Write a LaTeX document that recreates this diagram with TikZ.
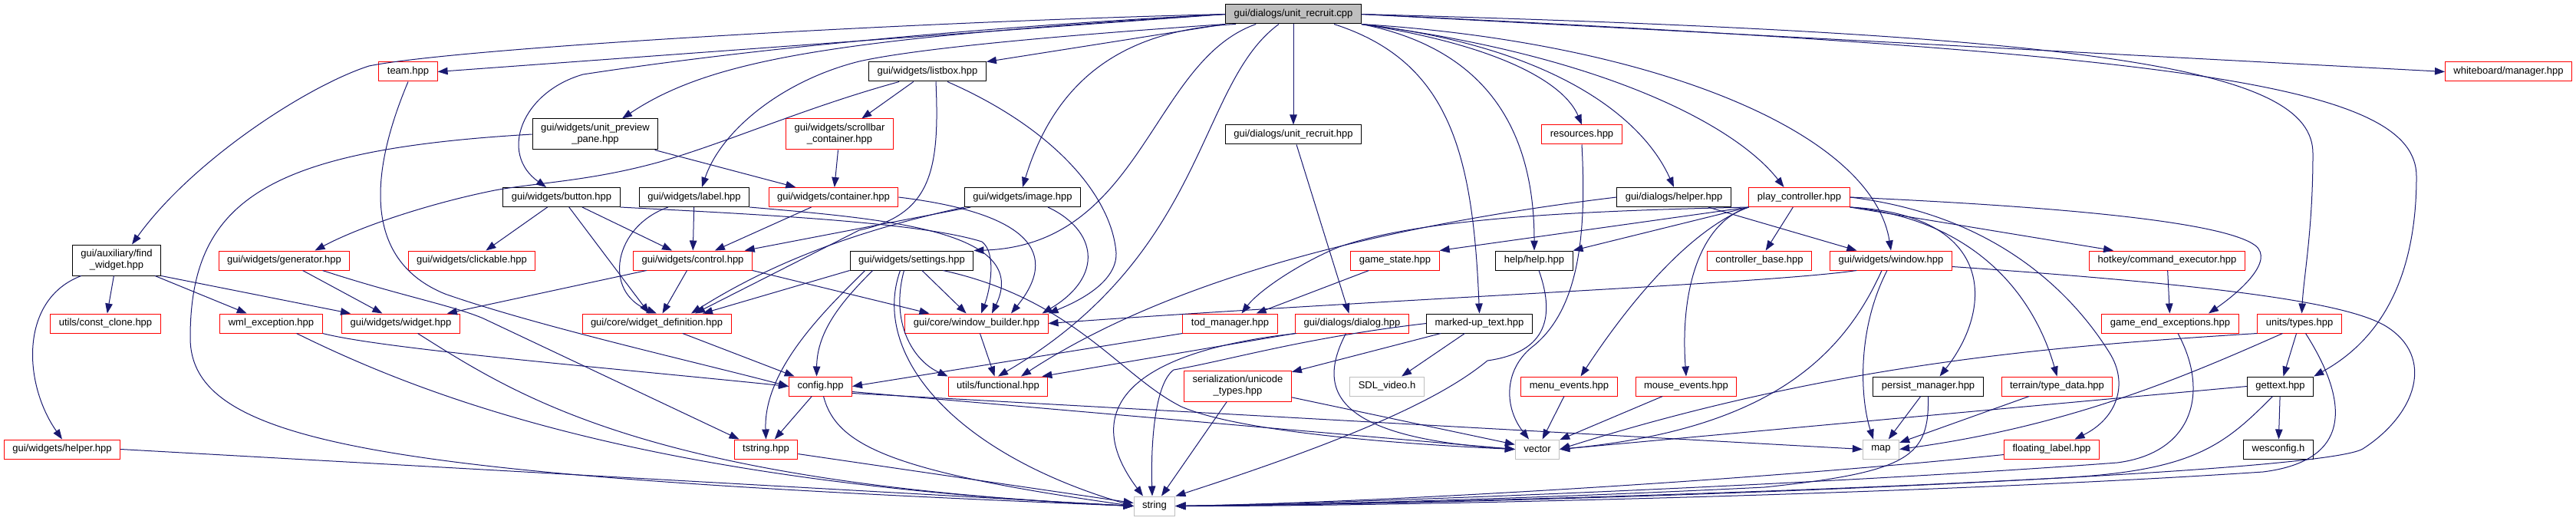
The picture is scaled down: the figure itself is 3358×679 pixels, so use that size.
\documentclass[tikz,border=0pt]{standalone}
\usepackage{fontspec}
\setmainfont{Liberation Sans}
\usetikzlibrary{arrows.meta, calc}

\begin{document}
\begin{tikzpicture}[x=1pt, y=-1pt,
    fileBox/.style={draw, rectangle, line width=1pt, inner xsep=11pt, inner ysep=0pt,
        minimum height=25pt, align=center, font=\fontsize{13}{15}\selectfont},
    docFile/.style={fileBox, draw=borderColour},
    cutFile/.style={fileBox, draw=cutColour},
    sysFile/.style={fileBox, draw=sysColour},
    twoLines/.style={minimum height=40pt},
    dep/.style={draw=edgeColour, line width=1pt, -{Triangle[length=13pt, width=9.5pt]}}]
    % Define colours
    \definecolor{borderColour}{HTML}{000000}
    \definecolor{cutColour}{HTML}{FF0000}
    \definecolor{sysColour}{HTML}{BFBFBF}
    \definecolor{fillColour}{HTML}{BFBFBF}
    \definecolor{edgeColour}{HTML}{191970}

    % Fix the canvas
    \fill[white] (0,0) rectangle (3358,679);
    \useasboundingbox (0,0) rectangle (3358,679);

    % Root file
    \node[docFile, fill=fillColour] (cpp) at (1686,18.5) {gui/dialogs/unit\_recruit.cpp};

    % Rows of included headers
    \node[cutFile] (team) at (532,93.5) {team.hpp};
    \node[docFile] (listBox) at (1209,93.5) {gui/widgets/listbox.hpp};
    \node[cutFile] (wbManager) at (3270,93.5) {whiteboard/manager.hpp};

    \node[docFile, twoLines] (previewPane) at (776,175) {gui/widgets/unit\_preview\\\_pane.hpp};
    \node[cutFile, twoLines] (scrollbar) at (1094.5,175) {gui/widgets/scrollbar\\\_container.hpp};
    \node[docFile] (recruitHpp) at (1686,175.5) {gui/dialogs/unit\_recruit.hpp};
    \node[cutFile] (resources) at (2062,175.5) {resources.hpp};

    \node[docFile] (button) at (732,257) {gui/widgets/button.hpp};
    \node[docFile] (label) at (905,257) {gui/widgets/label.hpp};
    \node[cutFile] (container) at (1086.5,257) {gui/widgets/container.hpp};
    \node[docFile] (image) at (1333,257) {gui/widgets/image.hpp};
    \node[docFile] (dlgHelper) at (2182,257) {gui/dialogs/helper.hpp};
    \node[cutFile] (playCtrl) at (2345.5,257) {play\_controller.hpp};

    \node[docFile, twoLines] (findWidget) at (152,339) {gui/auxiliary/find\\\_widget.hpp};
    \node[cutFile] (generator) at (370.5,339.5) {gui/widgets/generator.hpp};
    \node[cutFile] (clickable) at (615,339.5) {gui/widgets/clickable.hpp};
    \node[cutFile] (control) at (903,339.5) {gui/widgets/control.hpp};
    \node[docFile] (settings) at (1188.5,339.5) {gui/widgets/settings.hpp};
    \node[cutFile] (gameState) at (1818.5,339.5) {game\_state.hpp};
    \node[docFile] (help) at (2000,339.5) {help/help.hpp};
    \node[cutFile] (ctrlBase) at (2293.5,339.5) {controller\_base.hpp};
    \node[cutFile] (window) at (2465,339.5) {gui/widgets/window.hpp};
    \node[cutFile] (hotkey) at (2825,339.5) {hotkey/command\_executor.hpp};

    \node[cutFile] (constClone) at (137.5,421.5) {utils/const\_clone.hpp};
    \node[cutFile] (wmlExc) at (353.5,421.5) {wml\_exception.hpp};
    \node[cutFile] (widget) at (522.5,421.5) {gui/widgets/widget.hpp};
    \node[cutFile] (widgetDef) at (856,421.5) {gui/core/widget\_definition.hpp};
    \node[cutFile] (winBuilder) at (1273,421.5) {gui/core/window\_builder.hpp};
    \node[cutFile] (todMgr) at (1603.5,421.5) {tod\_manager.hpp};
    \node[cutFile] (dialog) at (1762.5,421.5) {gui/dialogs/dialog.hpp};
    \node[docFile] (markup) at (1928.5,421.5) {marked-up\_text.hpp};
    \node[cutFile] (gameEnd) at (2829,421.5) {game\_end\_exceptions.hpp};
    \node[cutFile] (unitTypes) at (2997.5,421.5) {units/types.hpp};

    \node[cutFile] (config) at (1069.5,503.5) {config.hpp};
    \node[cutFile] (functional) at (1301,503.5) {utils/functional.hpp};
    \node[cutFile, twoLines] (unicode) at (1613.5,503) {serialization/unicode\\\_types.hpp};
    \node[sysFile] (sdlVideo) at (1808,503.5) {SDL\_video.h};
    \node[cutFile] (menuEvents) at (2045.5,503.5) {menu\_events.hpp};
    \node[cutFile] (mouseEvents) at (2198,503.5) {mouse\_events.hpp};
    \node[docFile] (persist) at (2513.5,503.5) {persist\_manager.hpp};
    \node[cutFile] (terrain) at (2681.5,503.5) {terrain/type\_data.hpp};
    \node[docFile] (gettext) at (2972.5,503.5) {gettext.hpp};

    \node[cutFile] (wgHelper) at (81,585.5) {gui/widgets/helper.hpp};
    \node[cutFile] (tstring) at (998.5,585.5) {tstring.hpp};
    \node[sysFile] (vector) at (2004,585.5) {vector};
    \node[sysFile] (map) at (2452,585.5) {map};
    \node[cutFile] (floating) at (2674.5,585.5) {floating\_label.hpp};
    \node[docFile] (wesconfig) at (2970,585.5) {wesconfig.h};

    \node[sysFile] (string) at (1505,659.5) {string};

    % Includes of the root file
    \draw[dep] (cpp.west) -- (team.east);
    \draw[dep] (cpp.west) .. controls (1200,28) and (600,62) .. (481,86) .. controls (400,112) and (250,210) .. ($(findWidget.north)+(20,0)$);
    \draw[dep] (cpp.west) .. controls (1100,50) and (930,75) .. ($(previewPane.north)+(35,0)$);
    \draw[dep] (cpp.west) .. controls (1150,42) and (870,80) .. (760,97) .. controls (680,120) and (650,200) .. ($(button.north)+(-20,0)$);
    \draw[dep] (cpp.south west) -- (listBox.north east);
    \draw[dep] (cpp.south west) .. controls (1400,45) and (1200,62) .. (1120,80) .. controls (1020,105) and (940,170) .. ($(label.north)+(10,0)$);
    \draw[dep] ($(cpp.south west)+(14,0)$) .. controls (1480,38) and (1380,90) .. (image.north);
    \draw[dep] ($(cpp.south west)+(40,0)$) .. controls (1500,80) and (1490,320) .. (settings.north east);
    \draw[dep] (cpp) -- (recruitHpp);
    \draw[dep] ($(cpp.south)+(-19,0)$) .. controls (1560,110) and (1575,330) .. (functional.north);
    \draw[dep] ($(cpp.south)+(53,0)$) .. controls (1890,80) and (1920,200) .. (markup.north);
    \draw[dep] (cpp.south east) .. controls (1920,60) and (2000,150) .. (help.north);
    \draw[dep] (cpp.south east) .. controls (1960,60) and (2040,110) .. (resources.north);
    \draw[dep] (cpp.south east) .. controls (2020,60) and (2140,150) .. (dlgHelper.north);
    \draw[dep] (cpp.south east) .. controls (2080,70) and (2260,160) .. ($(playCtrl.north)+(-20,0)$);
    \draw[dep] (cpp.south east) .. controls (2150,55) and (2440,170) .. (window.north);
    \draw[dep] (cpp.east) -- (wbManager.west);
    \draw[dep] (cpp.east) .. controls (2750,45) and (3015,90) .. (3015,200) .. controls (3015,300) and (3003,360) .. ($(unitTypes.north)+(3,0)$);
    \draw[dep] (cpp.east) .. controls (2850,70) and (3150,110) .. (3150,230) .. controls (3150,380) and (3090,450) .. (gettext.north east);

    % Left part of the graph
    \draw[dep] (team.south) .. controls (480,230) and (475,340) .. (580,383) .. controls (700,425) and (900,470) .. (config.west);
    \draw[dep] (listBox) -- (scrollbar);
    \draw[dep] ($(listBox.south west)+(40,0)$) .. controls (1050,140) and (950,185) .. (860,211) .. controls (770,236) and (700,238) .. (645,248) .. controls (560,265) and (470,295) .. ($(generator.north)+(40,0)$);
    \draw[dep] ($(listBox.south)+(11,0)$) .. controls (1225,220) and (1215,280) .. (1120,300) -- ($(widgetDef.north)+(50,0)$);
    \draw[dep] ($(listBox.south)+(26,0)$) .. controls (1380,170) and (1450,260) .. (1455,330) .. controls (1456,370) and (1400,395) .. (winBuilder.north east);
    \draw[dep] (scrollbar) -- (container);
    \draw[dep] (previewPane) -- (container);
    \draw[dep] (previewPane.west) .. controls (350,195) and (248,260) .. (248,440) .. controls (248,580) and (500,620) .. (string.west);
    \draw[dep] (button) -- (clickable);
    \draw[dep] (button) -- (widgetDef);
    \draw[dep] (button) -- (control);
    \draw[dep] (button.south east) .. controls (1000,280) and (1200,290) .. (1280,315) .. controls (1300,330) and (1290,380) .. ($(winBuilder.north)+(6,0)$);
    \draw[dep] (label) -- (control);
    \draw[dep] ($(label.south)+(-34,0)$) .. controls (800,295) and (785,380) .. (widgetDef.north);
    \draw[dep] (label.south east) .. controls (1150,285) and (1345,300) .. ($(winBuilder.north)+(20,0)$);
    \draw[dep] (container) -- (control);
    \draw[dep] (container.east) .. controls (1320,275) and (1390,320) .. ($(winBuilder.north)+(45,0)$);
    \draw[dep] (image) -- (control);
    \draw[dep] (image.south west) .. controls (1120,300) and (1010,340) .. ($(widgetDef.north)+(45,0)$);
    \draw[dep] ($(image.south)+(33,0)$) .. controls (1430,300) and (1440,360) .. ($(winBuilder.north east)+(-8,0)$);
    \draw[dep] (findWidget) -- (constClone);
    \draw[dep] (findWidget) -- (wmlExc);
    \draw[dep] (findWidget.south east) -- (widget);
    \draw[dep] ($(findWidget.south west)+(12,0)$) .. controls (25,390) and (30,500) .. (wgHelper.north);
    \draw[dep] (generator) -- (widget);
    \draw[dep] ($(generator.south)+(50,0)$) .. controls (520,385) and (590,398) .. (630,415) -- ($(tstring.north)+(-35,0)$);
    \draw[dep] (control) -- (widgetDef);
    \draw[dep] (control) -- (widget);
    \draw[dep] (control.south east) -- ($(winBuilder.north west)+(32,0)$);
    \draw[dep] (settings.south west) -- ($(widgetDef.north)+(60,0)$);
    \draw[dep] (settings) -- (winBuilder);
    \draw[dep] ($(settings.south)+(-10,0)$) .. controls (1160,420) and (1190,470) .. (functional.north west);
    \draw[dep] ($(settings.south west)+(30,0)$) .. controls (1100,390) and (1065,430) .. ($(config.north)+(-5,0)$);
    \draw[dep] ($(settings.south west)+(20,0)$) .. controls (1080,400) and (995,480) .. (tstring.north);
    \draw[dep] ($(settings.south)+(-15,0)$) .. controls (1135,460) and (1240,590) .. (string.west);
    \draw[dep] ($(settings.south east)+(-40,0)$) .. controls (1400,390) and (1460,490) .. (1540,530) .. controls (1620,565) and (1850,580) .. (vector.west);
    \draw[dep] (wmlExc.south east) .. controls (500,455) and (800,480) .. (config.west);
    \draw[dep] ($(wmlExc.south)+(33,0)$) .. controls (560,520) and (850,630) .. (string.west);
    \draw[dep] ($(widget.south)+(22,0)$) .. controls (680,520) and (850,630) .. (string.west);
    \draw[dep] (wgHelper.east) -- (string.west);
    \draw[dep] (widgetDef) -- (config);
    \draw[dep] (winBuilder) -- (functional);
    \draw[dep] (config) -- (tstring);
    \draw[dep] ($(config.south)+(4,0)$) .. controls (1090,580) and (1160,615) .. (string.west);
    \draw[dep] ($(config.east)+(0,7)$) -- (vector.west);
    \draw[dep] ($(config.east)+(0,9)$) -- (map.west);
    \draw[dep] (tstring) -- (string);

    % Middle part of the graph
    \draw[dep] (recruitHpp) -- (dialog);
    \draw[dep] (dlgHelper.west) .. controls (1750,300) and (1500,380) .. ($(functional.north)+(30,0)$);
    \draw[dep] (dlgHelper) -- (window);
    \draw[dep] (gameState) -- (todMgr);
    \draw[dep] (todMgr.south west) -- (config.east);
    \draw[dep] (dialog.south west) -- ($(functional.north east)+(-8,0)$);
    \draw[dep] ($(dialog.south west)+(2,0)$) .. controls (1460,460) and (1410,540) .. ($(string.north)+(-15,0)$);
    \draw[dep] ($(dialog.south)+(-8,0)$) .. controls (1715,510) and (1740,570) .. (vector.west);
    \draw[dep] (markup.west) .. controls (1700,440) and (1600,470) .. (1530,482) .. controls (1505,500) and (1500,580) .. ($(string.north)+(-3,0)$);
    \draw[dep] (markup) -- (unicode);
    \draw[dep] (markup) -- (sdlVideo);
    \draw[dep] (unicode) -- (string);
    \draw[dep] (unicode) -- (vector);
    \draw[dep] (resources.south) .. controls (2068,300) and (2060,400) .. (2000,450) .. controls (1960,480) and (1960,530) .. ($(vector.north)+(-11,0)$);
    \draw[dep] ($(help.south)+(6,0)$) .. controls (2030,420) and (2010,460) .. (1939,470) .. controls (1890,510) and (1800,560) .. (string.north east);
    \draw[dep] (menuEvents) -- (vector);
    \draw[dep] (mouseEvents) -- (vector);

    % Right part of the graph
    \draw[dep] (playCtrl.south west) -- (gameState.north east);
    \draw[dep] (playCtrl.south west) -- (help.north east);
    \draw[dep] (playCtrl.south west) .. controls (2050,275) and (1850,285) .. (1745,322) .. controls (1690,345) and (1640,380) .. ($(todMgr.north)+(15,0)$);
    \draw[dep] (playCtrl.south west) .. controls (2200,300) and (2120,400) .. ($(menuEvents.north)+(15,0)$);
    \draw[dep] (playCtrl.south west) .. controls (2215,290) and (2190,380) .. (mouseEvents.north);
    \draw[dep] (playCtrl) -- (ctrlBase);
    \draw[dep] (playCtrl.south east) .. controls (2600,280) and (2600,400) .. ($(persist.north)+(15,0)$);
    \draw[dep] (playCtrl.south east) .. controls (2570,285) and (2650,380) .. (terrain.north);
    \draw[dep] (playCtrl.east) .. controls (2600,280) and (2700,380) .. (2750,460) .. controls (2775,500) and (2760,545) .. ($(floating.north)+(30,0)$);
    \draw[dep] (playCtrl.south east) -- ($(hotkey.north)+(-70,0)$);
    \draw[dep] (playCtrl.east) .. controls (2700,270) and (2900,290) .. (2940,320) .. controls (2965,340) and (2920,380) .. ($(gameEnd.north)+(50,0)$);
    \draw[dep] (hotkey) -- (gameEnd);
    \draw[dep] ($(window.south west)+(35,0)$) .. controls (2300,370) and (1800,390) .. (winBuilder.east);
    \draw[dep] ($(window.south)+(-12,0)$) .. controls (2400,470) and (2300,560) .. (vector.east);
    \draw[dep] ($(window.south)+(-5,0)$) .. controls (2420,430) and (2425,520) .. ($(map.north)+(-10,0)$);
    \draw[dep] ($(window.east)+(0,8)$) .. controls (2900,372) and (3060,395) .. (3110,425) .. controls (3175,465) and (3150,540) .. (3080,585) .. controls (3020,620) and (2000,655) .. (string.east);
    \draw[dep] ($(gameEnd.south)+(10,0)$) .. controls (2880,510) and (2860,590) .. (2760,603) .. controls (2400,630) and (1800,655) .. (string.east);
    \draw[dep] (unitTypes) -- (gettext);
    \draw[dep] ($(unitTypes.south)+(8,0)$) .. controls (3060,520) and (3070,600) .. (2950,615) .. controls (2500,645) and (1800,660) .. (string.east);
    \draw[dep] (unitTypes.south west) .. controls (2700,450) and (2400,470) .. (vector.east);
    \draw[dep] ($(unitTypes.south)+(-22,0)$) .. controls (2850,490) and (2700,555) .. (map.east);
    \draw[dep] (gettext) -- (wesconfig);
    \draw[dep] (gettext.west) -- (vector.east);
    \draw[dep] ($(gettext.south)+(-10,0)$) .. controls (2900,580) and (2860,612) .. (2700,622) .. controls (2300,645) and (1800,658) .. (string.east);
    \draw[dep] (persist) -- (map);
    \draw[dep] (persist.south) .. controls (2515,595) and (2490,615) .. (2300,635) .. controls (2000,650) and (1700,658) .. (string.east);
    \draw[dep] (terrain) -- (map);
    \draw[dep] ($(floating.west)+(0,7)$) .. controls (2300,625) and (1800,655) .. (string.east);

\end{tikzpicture}
\end{document}
